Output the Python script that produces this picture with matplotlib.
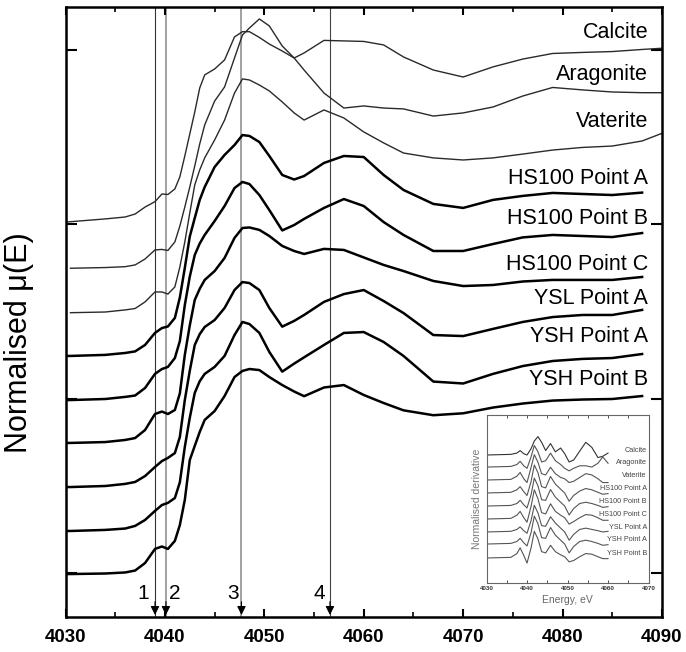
import numpy as np
import matplotlib
matplotlib.use("Agg")
import matplotlib.pyplot as plt
from matplotlib.ticker import MultipleLocator

plt.rcParams['font.family'] = ['Liberation Sans', 'DejaVu Sans']

nan = np.nan
# ---------------- main panel data (energy grid, eV) ----------------
energy = [4030, 4030.5, 4034, 4036, 4037, 4038, 4039, 4039.7, 4040.3, 4041,
          4041.5, 4042, 4042.5, 4043, 4043.5, 4044, 4045, 4046, 4047, 4047.8,
          4048.5, 4049.5, 4050.5, 4051.8, 4053, 4054, 4056, 4058, 4060, 4062,
          4064, 4067, 4070, 4073, 4076, 4079, 4082, 4085, 4088, 4090]

aragonite = [2.013, 2.015, 2.031, 2.042, 2.059, 2.099, 2.130, 2.174, 2.171, 2.203,
             2.272, 2.392, 2.518, 2.644, 2.782, 2.857, 2.891, 2.943, 3.075, 3.105,
             3.105, 3.072, 3.034, 2.994, 2.954, 2.885, 2.753, 2.667, 2.679, 2.667,
             2.662, 2.621, 2.639, 2.673, 2.736, 2.785, 2.771, 2.759, 2.755, 2.755]
calcite = [nan, 1.748, 1.752, 1.757, 1.767, 1.801, 1.853, 1.856, 1.850, 1.899,
           1.990, 2.099, 2.214, 2.335, 2.461, 2.570, 2.707, 2.788, 2.954, 3.086,
           3.126, 3.178, 3.138, 3.023, 2.954, 2.983, 3.055, 3.052, 3.049, 3.029,
           2.960, 2.885, 2.845, 2.903, 2.948, 2.980, 2.986, 2.991, 3.003, 3.010]
vaterite = [nan, 1.493, 1.497, 1.509, 1.517, 1.555, 1.612, 1.612, 1.600, 1.641,
            1.755, 1.899, 2.065, 2.226, 2.312, 2.381, 2.484, 2.598, 2.753, 2.834,
            2.828, 2.799, 2.765, 2.702, 2.639, 2.598, 2.656, 2.610, 2.530, 2.467,
            2.409, 2.381, 2.369, 2.381, 2.403, 2.426, 2.441, 2.449, 2.478, 2.522]
hs100_a = [1.245, 1.245, 1.251, 1.262, 1.271, 1.308, 1.377, 1.405, 1.414, 1.463,
           1.580, 1.750, 1.930, 2.036, 2.140, 2.214, 2.329, 2.398, 2.455, 2.512,
           2.507, 2.472, 2.392, 2.283, 2.257, 2.277, 2.352, 2.392, 2.386, 2.283,
           2.197, 2.117, 2.094, 2.140, 2.163, 2.180, 2.174, 2.168, 2.182, nan]
hs100_b = [0.992, 0.992, 0.998, 1.010, 1.018, 1.061, 1.142, 1.170, 1.182, 1.233,
           1.330, 1.537, 1.700, 1.824, 1.890, 1.939, 2.019, 2.105, 2.208, 2.243,
           2.231, 2.168, 2.082, 1.965, 1.996, 2.031, 2.094, 2.145, 2.105, 2.013,
           1.939, 1.847, 1.847, 1.887, 1.925, 1.939, 1.933, 1.927, 1.950, nan]
hs100_c = [0.746, 0.746, 0.751, 0.763, 0.774, 0.820, 0.912, 0.926, 0.912, 0.935,
           1.030, 1.251, 1.420, 1.566, 1.630, 1.681, 1.732, 1.807, 1.922, 1.979,
           1.982, 1.968, 1.933, 1.876, 1.847, 1.830, 1.859, 1.853, 1.810, 1.767,
           1.732, 1.675, 1.646, 1.652, 1.672, 1.681, 1.681, 1.681, 1.698, nan]
ysl_a = [0.493, 0.493, 0.499, 0.511, 0.522, 0.556, 0.608, 0.642, 0.660, 0.688,
         0.780, 0.992, 1.160, 1.308, 1.370, 1.411, 1.451, 1.520, 1.623, 1.669,
         1.663, 1.623, 1.520, 1.413, 1.446, 1.480, 1.555, 1.600, 1.623, 1.560,
         1.491, 1.365, 1.359, 1.400, 1.440, 1.468, 1.480, 1.480, 1.509, nan]
ysh_a = [0.241, 0.241, 0.247, 0.255, 0.270, 0.304, 0.356, 0.390, 0.402, 0.430,
         0.520, 0.723, 0.890, 1.033, 1.100, 1.142, 1.182, 1.245, 1.365, 1.440,
         1.428, 1.377, 1.268, 1.155, 1.201, 1.237, 1.308, 1.377, 1.382, 1.325,
         1.245, 1.098, 1.087, 1.142, 1.187, 1.216, 1.228, 1.233, 1.256, nan]
ysh_b = [-0.006, -0.006, -0.003, 0.003, 0.014, 0.057, 0.138, 0.152, 0.138, 0.184,
         0.275, 0.419, 0.648, 0.729, 0.809, 0.878, 0.929, 1.015, 1.124, 1.159,
         1.170, 1.164, 1.124, 1.078, 1.041, 1.014, 1.064, 1.078, 1.021, 0.975,
         0.933, 0.905, 0.916, 0.949, 0.972, 0.989, 0.995, 0.998, 1.015, nan]

names = ['Calcite', 'Aragonite', 'Vaterite', 'HS100 Point A', 'HS100 Point B',
         'HS100 Point C', 'YSL Point A', 'YSH Point A', 'YSH Point B']
spectra = [calcite, aragonite, vaterite, hs100_a, hs100_b, hs100_c, ysl_a, ysh_a, ysh_b]
label_y = [3.098, 2.862, 2.587, 2.260, 2.031, 1.767, 1.577, 1.359, 1.107]

feature_e = [4039.0, 4040.1, 4047.7, 4056.6]
feature_lbl = ['1', '2', '3', '4']
feature_lbl_e = [4037.8, 4041.0, 4046.9, 4055.5]

# ---------------- inset data (derivative) ----------------
inset_e = [4030, 4036, 4037.5, 4038.3, 4039.2, 4040.0, 4041.0, 4041.8, 4042.7, 4043.6,
           4044.6, 4045.8, 4047.0, 4048.3, 4049.3, 4050.4, 4051.5, 4053.0, 4054.5,
           4056.0, 4057.5, 4058.7, 4060.0]
d_calcite = [0, 0.05, 0.15, 0.35, 0.1, 0.0, 0.5, 1.1, 1.45, 1.0, 0.35, 0.9, 0.25, 0.55,
             0.1, -0.55, -0.4, 0.3, 1.0, 0.6, -0.2, -0.1, 0.15]
d_aragonite = [0, 0.05, 0.2, 0.45, 0.1, -0.1, 0.8, 1.7, 1.2, 0.4, 0.5, 1.1, 0.5, 0.2,
               -0.1, -0.3, -0.1, 0.1, 0.1, 0.0, 0.3, 0.8, 0.3]
d_vaterite = [0, 0.05, 0.3, 0.6, 0.1, -0.2, 1.0, 2.0, 1.4, 0.5, 0.4, 1.0, 0.5, 0.2,
              0.1, -0.2, -0.1, 0.2, 0.5, 0.4, 0.1, -0.2, -0.2]
d_hs100_a = [0, 0.05, 0.25, 0.5, 0.1, -0.2, 0.9, 2.2, 1.6, 0.5, 0.4, 1.3, 0.7, 0.3,
             0.0, -0.65, -0.2, 0.15, 0.35, 0.25, 0.05, -0.1, -0.05]
d_hs100_b = [0, 0.05, 0.2, 0.45, 0.1, -0.15, 0.9, 2.2, 1.6, 0.5, 0.45, 1.3, 0.7, 0.3,
             0.0, -0.7, -0.2, 0.2, 0.3, 0.2, 0.05, -0.1, -0.05]
d_hs100_c = [0, 0.05, 0.3, 0.6, 0.1, -0.25, 1.0, 2.3, 1.6, 0.5, 0.4, 1.2, 0.6, 0.3,
             0.1, -0.4, -0.2, 0.1, 0.35, 0.3, 0.1, -0.1, -0.1]
d_ysl_a = [0, 0.05, 0.2, 0.4, 0.1, -0.1, 0.9, 2.1, 1.5, 0.5, 0.45, 1.2, 0.7, 0.3,
           0.0, -0.65, -0.2, 0.2, 0.3, 0.2, 0.1, 0.0, 0.05]
d_ysh_a = [0, 0.05, 0.2, 0.45, 0.1, -0.15, 0.9, 2.2, 1.6, 0.5, 0.45, 1.3, 0.7, 0.3,
           0.0, -0.7, -0.2, 0.2, 0.3, 0.2, 0.05, -0.1, -0.05]
d_ysh_b = [0, 0.05, 0.35, 0.8, 0.2, -0.4, 0.8, 2.1, 1.5, 0.5, 0.4, 1.0, 0.5, 0.25,
           0.1, -0.3, -0.2, 0.1, 0.35, 0.3, 0.1, -0.05, -0.05]
deriv = [d_calcite, d_aragonite, d_vaterite, d_hs100_a, d_hs100_b, d_hs100_c,
         d_ysl_a, d_ysh_a, d_ysh_b]
inset_offset = [10.08, 9.13, 8.11, 7.09, 6.06, 5.04, 4.02, 3.07, 1.97]

# ---------------- figure ----------------
fig = plt.figure(figsize=(6.86, 6.52), dpi=100)
ax = fig.add_axes([0.0955, 0.0537, 0.8695, 0.9356])

for i, (nm, y) in enumerate(zip(names, spectra)):
    thin = i < 3
    ax.plot(energy, y, color='#2a2a2a' if thin else 'black',
            lw=1.0 if thin else 1.8, solid_joinstyle='round')
    ax.text(4088.6, label_y[i], nm, ha='right', va='center', fontsize=15.5)

line_cols = ['#333333', '#9a9a9a', '#9a9a9a', '#444444']
line_lws = [0.8, 1.3, 1.3, 0.8]
for e, c, lw in zip(feature_e, line_cols, line_lws):
    ax.axvline(e, color=c, lw=lw, zorder=0.5)
    ax.annotate('', xy=(e, -0.241), xytext=(e, -0.165),
                arrowprops=dict(arrowstyle='-|>', color='black', lw=0.8,
                                mutation_scale=13, shrinkA=0, shrinkB=0))
for t, e in zip(feature_lbl, feature_lbl_e):
    ax.text(e, -0.115, t, ha='center', va='center', fontsize=15)

ax.set_xlim(4030, 4090)
ax.set_ylim(-0.2524, 3.2467)
ax.xaxis.set_major_locator(MultipleLocator(10))
ax.xaxis.set_minor_locator(MultipleLocator(5))
ax.set_yticks([0, 1, 2, 3])
ax.set_yticklabels([])
ax.tick_params(axis='x', which='major', direction='in', top=True, length=6,
               width=1.5, labelsize=13.5, pad=9)
ax.tick_params(axis='x', which='minor', direction='in', top=True, length=3.5, width=1.2)
ax.tick_params(axis='y', which='major', direction='in', right=True, length=8, width=1.5)
for lbl in ax.get_xticklabels():
    lbl.set_fontweight('bold')
for s in ax.spines.values():
    s.set_linewidth(1.8)
ax.set_ylabel('Normalised \u03bc(E)', fontsize=22)
ax.yaxis.set_label_coords(-0.052, 0.45)

# ---------------- inset ----------------
ins = fig.add_axes([0.7092, 0.1058, 0.2362, 0.2577])
for i, (d, off) in enumerate(zip(deriv, inset_offset)):
    ins.plot(inset_e, np.asarray(d) + off, color='#555555' if i else '#333333', lw=0.8)
    ins.text(4069.6, off + 0.35, names[i], ha='right', va='center', fontsize=5.2,
             color='#444444')
ins.set_xlim(4030, 4070)
ins.set_ylim(0, 13.23)
ins.xaxis.set_major_locator(MultipleLocator(10))
ins.xaxis.set_minor_locator(MultipleLocator(5))
ins.set_yticks([])
ins.tick_params(axis='x', which='both', direction='in', top=True, length=2,
                width=0.6, labelsize=4.5, pad=2, colors='#333333')
for lbl in ins.get_xticklabels():
    lbl.set_fontweight('bold')
for s in ins.spines.values():
    s.set_linewidth(0.8)
    s.set_color('#666666')
ins.set_xlabel('Energy, eV', fontsize=7.5, color='#666666', labelpad=3)
ins.set_ylabel('Normalised derivative', fontsize=7.5, color='#777777', labelpad=3)

fig.savefig('out.png', dpi=100)
